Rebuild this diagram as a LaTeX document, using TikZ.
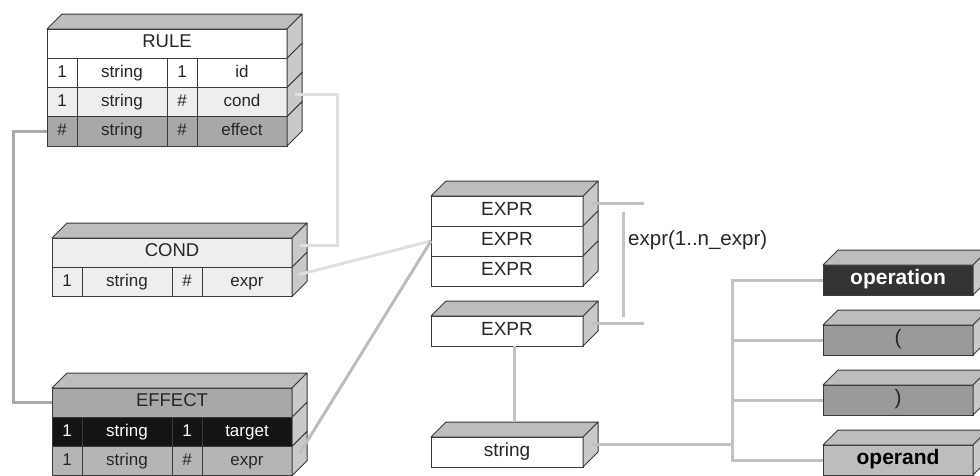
\documentclass[tikz,border=0pt]{standalone}
\usepackage{fontspec}
\setmainfont{Liberation Sans}
\usetikzlibrary{positioning,calc}
\definecolor{tblInk}{HTML}{262626}
\definecolor{tblLine}{HTML}{3A3A3A}
\definecolor{tblTop}{HTML}{BDBDBD}
\definecolor{tblSide}{HTML}{C9C9C9}
\definecolor{tblPale}{HTML}{EEEEEE}
\definecolor{tblMid}{HTML}{A8A8A8}
\definecolor{tblSoft}{HTML}{B5B5B5}
\definecolor{tblBlack}{HTML}{141414}
\definecolor{tblCoal}{HTML}{333333}
\definecolor{tblGrey}{HTML}{9A9A9A}
\definecolor{linkLight}{HTML}{DFDFDF}
\definecolor{linkMid}{HTML}{C2C2C2}
\definecolor{linkDark}{HTML}{AAAAAA}
\tikzset{
  tbl cell/.style={draw=tblLine, line width=1pt, inner sep=0pt, outer sep=0pt, minimum height=29.25pt, text height=12pt, text depth=3.5pt, text=tblInk, font=\fontsize{17}{20}\selectfont},
  tbl title/.style={tbl cell, minimum width=240pt, anchor=north west, font=\fontsize{18.5}{22}\selectfont},
  tbl box/.style={tbl cell, minimum width=152pt, minimum height=30pt, anchor=north west, fill=white, font=\fontsize{19}{22}\selectfont},
  tbl top/.style={draw=tblLine, line width=1pt, fill=tblTop, line join=round},
  tbl side/.style={draw=tblLine, line width=1pt, fill=tblSide, line join=round},
  tbl link/.style={line width=3pt},
  tbl label/.style={font=\fontsize{20.5}{24}\selectfont, text=tblInk, anchor=west, inner sep=0pt},
}

\begin{document}
\begin{tikzpicture}[x=1pt,y=-1pt]
  \clip (0,0) rectangle (980,475);

  % table heads
  \foreach \nm/\lbl/\x/\y/\fc in {rule/RULE/47/29/white, cond/COND/52/238/tblPale, eff/EFFECT/52/388/tblMid}{
    \node[tbl title, fill=\fc] (\nm) at (\x,\y) {\lbl};
    \draw[tbl top] (\nm.north west) -- ++(15,-15) -- ($(\nm.north east)+(15,-15)$) -- (\nm.north east) -- cycle;
    \draw[tbl side] (\nm.north east) -- ++(15,-15) -- ($(\nm.south east)+(15,-15)$) -- (\nm.south east) -- cycle;
    \coordinate (\nm-s) at ($(\nm.east)+(7.5,-7.5)$);
  }

  % table rows
  \foreach \nm/\x/\y/\fc/\tc/\ca/\cb/\cc/\cd in {
      rule-id/47/58.25/white/tblInk/1/string/1/id,
      rule-cond/47/87.5/tblPale/tblInk/1/string/\#/cond,
      rule-eff/47/116.75/tblMid/tblInk/\#/string/\#/effect,
      cond-expr/52/267.25/tblPale/tblInk/1/string/\#/expr,
      eff-tgt/52/417.25/tblBlack/white/1/string/1/target,
      eff-expr/52/446.5/tblSoft/tblInk/1/string/\#/expr}{
    \node[tbl cell, fill=\fc, text=\tc, minimum width=30pt, anchor=north west] (\nm-a) at (\x,\y) {\ca};
    \node[tbl cell, fill=\fc, text=\tc, minimum width=90pt, right=0pt of \nm-a] (\nm-b) {\cb};
    \node[tbl cell, fill=\fc, text=\tc, minimum width=30pt, right=0pt of \nm-b] (\nm-c) {\cc};
    \node[tbl cell, fill=\fc, text=\tc, minimum width=90pt, right=0pt of \nm-c] (\nm-d) {\cd};
    \draw[tbl side] (\nm-d.north east) -- ++(15,-15) -- ($(\nm-d.south east)+(15,-15)$) -- (\nm-d.south east) -- cycle;
    \coordinate (\nm-s) at ($(\nm-d.east)+(7.5,-7.5)$);
  }

  % expression boxes
  \foreach \nm/\lbl/\y in {ex1/EXPR/196, ex2/EXPR/226, ex3/EXPR/256, ex4/EXPR/316, str/string/437}{
    \node[tbl box] (\nm) at (431,\y) {\lbl};
    \draw[tbl side] (\nm.north east) -- ++(15,-15) -- ($(\nm.south east)+(15,-15)$) -- (\nm.south east) -- cycle;
    \coordinate (\nm-s) at ($(\nm.east)+(7.5,-7.5)$);
  }
  \foreach \nm in {ex1,ex4,str}
    \draw[tbl top] (\nm.north west) -- ++(15,-15) -- ($(\nm.north east)+(15,-15)$) -- (\nm.north east) -- cycle;

  % token boxes
  \foreach \nm/\lbl/\y/\fc/\tc/\fw in {op/operation/265/tblCoal/white/\bfseries, lp/(/325/tblGrey/tblInk/, rp/)/385/tblGrey/tblInk/, opd/operand/445/tblTop/black/\bfseries}{
    \node[tbl box, minimum width=150pt, fill=\fc, text=\tc, font=\fontsize{21}{24}\selectfont\fw] (\nm) at (823,\y) {\lbl};
    \draw[tbl top] (\nm.north west) -- ++(15,-15) -- ($(\nm.north east)+(15,-15)$) -- (\nm.north east) -- cycle;
    \draw[tbl side] (\nm.north east) -- ++(15,-15) -- ($(\nm.south east)+(15,-15)$) -- (\nm.south east) -- cycle;
  }

  \node[tbl label] (rep) at (628,240) {expr(1..n\_expr)};
  \coordinate (brk-top) at (623,212);
  \coordinate (brk-bot) at (623,317);
  \coordinate (trunk) at ($(op.west)+(-91,0)$);

  % links
  \draw[tbl link, linkLight] (rule-cond-s) -- ++(43,0) |- (cond-s);
  \draw[tbl link, linkLight] (cond-expr-s) -- (ex2.west);
  \draw[tbl link, tblTop] (eff-expr-s) -- (ex2.west);
  \draw[tbl link, linkDark] (rule-eff-a.west) -- ++(-34,0) |- (eff.west);
  \draw[tbl link, linkMid] (ex1-s) -- ++(53,0);
  \draw[tbl link, linkMid] (ex4-s) -- ++(53,0);
  \draw[tbl link, linkMid] (brk-top) -- (brk-bot);
  \draw[tbl link, linkMid] ($(ex4.south)+(7,0)$) -- ($(str.north)+(7,-15)$);
  \draw[tbl link, linkMid] (str-s) -- (str-s -| trunk);
  \draw[tbl link, linkMid] (op.west) -- (trunk) |- (opd.west);
  \draw[tbl link, linkMid] (lp.west) -- (lp.west -| trunk);
  \draw[tbl link, linkMid] (rp.west) -- (rp.west -| trunk);
\end{tikzpicture}
\end{document}
